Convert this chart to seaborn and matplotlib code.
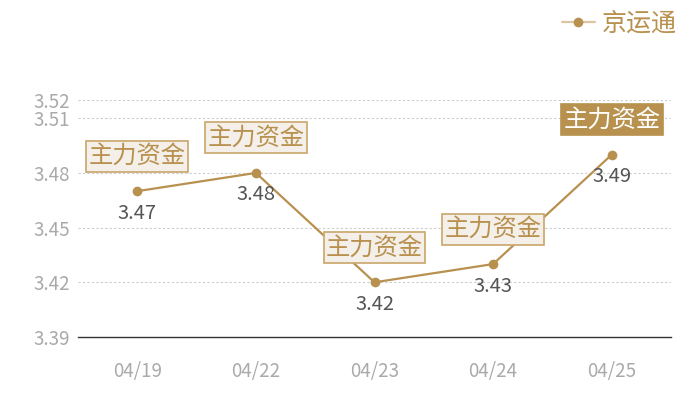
import pandas as pd
import seaborn as sns
import matplotlib.pyplot as plt

dates = ['04/19', '04/22', '04/23', '04/24', '04/25']
values = [3.47, 3.48, 3.42, 3.43, 3.49]
yticks = [3.39, 3.42, 3.45, 3.48, 3.51, 3.52]
series_name = '京运通'
tag = '主力资金'

gold = '#b8914f'

sns.set_theme(style='white')
plt.rcParams['font.family'] = ['Noto Sans CJK SC', 'DejaVu Sans']

df = pd.DataFrame({'date': dates, 'value': values})
df['pos'] = range(len(df))

fig = plt.figure(figsize=(7, 4), dpi=100)
ax = fig.add_axes([78 / 700, 1 - 337 / 400, (671 - 78) / 700, (337 - 100) / 400])

sns.lineplot(data=df, x='pos', y='value', ax=ax, color=gold, marker='o',
             markersize=7, markeredgewidth=0, linewidth=1.6, label=series_name, zorder=3)

ax.set_xlim(-0.5, len(dates) - 0.5)
ax.set_ylim(3.39, 3.52)
ax.set_xticks(df['pos'])
ax.set_xticklabels(dates)
ax.set_yticks(yticks)
ax.set_yticklabels([f'{v:.2f}' for v in yticks])
ax.set_xlabel('')
ax.set_ylabel('')
ax.tick_params(axis='both', length=0, labelsize=13.5, colors='#aaaaaa')
ax.tick_params(axis='x', pad=17)
ax.tick_params(axis='y', pad=6)
for t in yticks[1:]:
    ax.axhline(t, color='#cccccc', linestyle=(0, (2, 2)), linewidth=0.8, zorder=1)
for s in ['top', 'right', 'left']:
    ax.spines[s].set_visible(False)
ax.spines['bottom'].set_color('#333333')
ax.spines['bottom'].set_linewidth(1.0)

for i, (p, v) in enumerate(zip(df['pos'], df['value'])):
    ax.annotate(f'{v:.2f}', (p, v), xytext=(0, -22), textcoords='offset pixels',
                ha='center', va='center', fontsize=14.5, color='#555555', zorder=5)
    last = i == len(dates) - 1
    ax.annotate(tag, (p, v), xytext=(0, 35), textcoords='offset pixels',
                ha='center', va='center', fontsize=17.5,
                color='white' if last else gold, zorder=6,
                bbox=dict(boxstyle='square,pad=0.1',
                          fc=gold if last else '#f4efe8',
                          ec=gold if last else '#c9a66b', lw=1.2))

leg = ax.legend(loc='upper right', bbox_to_anchor=(692 / 700, 1.01), bbox_transform=fig.transFigure,
                frameon=False, fontsize=18, handlelength=1.3, handletextpad=0.3,
                borderaxespad=0.2)
for txt in leg.get_texts():
    txt.set_color(gold)
for h in leg.legend_handles:
    h.set_color('#dcc6a2')
    h.set_markerfacecolor(gold)

fig.savefig('out.png', dpi=100)
